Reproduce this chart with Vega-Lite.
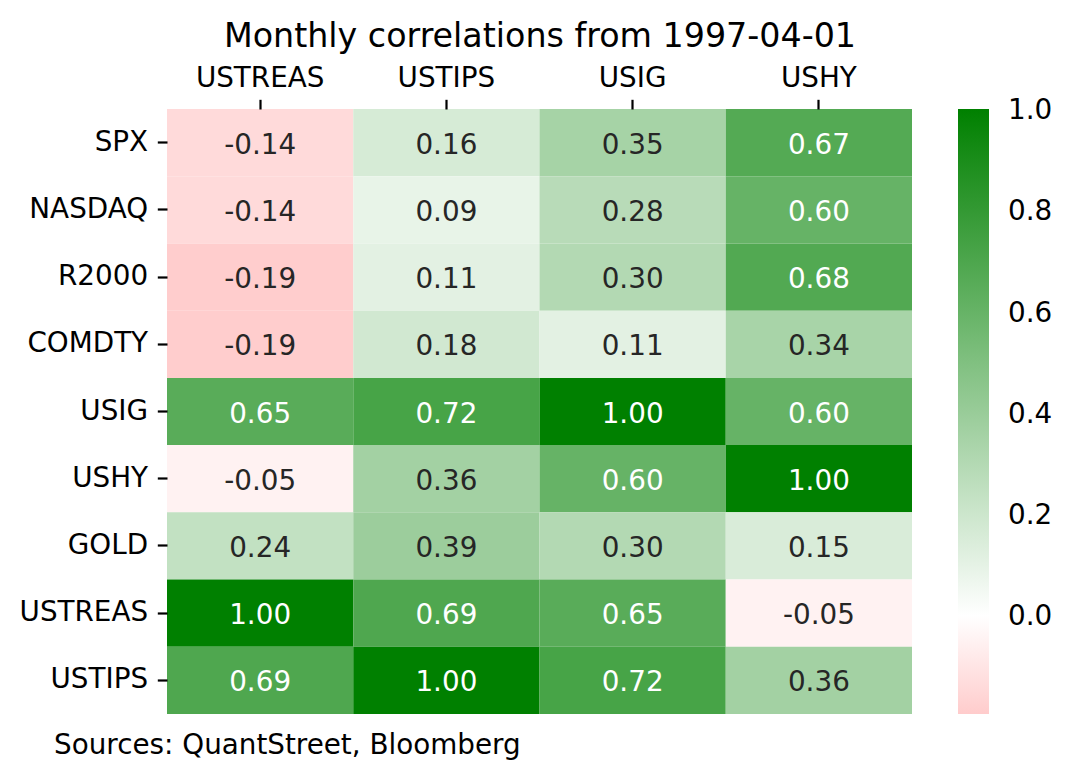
{
  "$schema": "https://vega.github.io/schema/vega-lite/v6.json",
  "autosize": {"type": "none"},
  "width": 745,
  "height": 605,
  "padding": {"left": 167, "top": 109, "right": 160, "bottom": 66},
  "background": "white",
  "config": {
    "locale": {
      "number": {"decimal": ".", "thousands": ",", "grouping": [3], "currency": ["$", ""], "minus": "-"}
    },
    "view": {"stroke": null},
    "font": "DejaVu Sans",
    "axis": {
      "labelFont": "DejaVu Sans",
      "labelFontSize": 27.8,
      "labelColor": "#000000",
      "tickColor": "#000000",
      "tickSize": 9.7,
      "tickWidth": 2.2,
      "domain": false,
      "labelPadding": 9.7,
      "titleFont": "DejaVu Sans",
      "titleFontWeight": "normal",
      "titleColor": "#000000"
    },
    "legend": {
      "labelFont": "DejaVu Sans",
      "labelFontSize": 27.8,
      "labelColor": "#000000"
    }
  },
  "title": {
    "text": "Sources: QuantStreet, Bloomberg",
    "orient": "bottom",
    "anchor": "start",
    "dx": 35,
    "offset": 18,
    "font": "DejaVu Sans",
    "fontSize": 27.8,
    "fontWeight": "normal",
    "color": "#000000"
  },
  "data": {
    "values": [
      {"row": "SPX", "col": "USTREAS", "value": -0.14},
      {"row": "SPX", "col": "USTIPS", "value": 0.16},
      {"row": "SPX", "col": "USIG", "value": 0.35},
      {"row": "SPX", "col": "USHY", "value": 0.67},
      {"row": "NASDAQ", "col": "USTREAS", "value": -0.14},
      {"row": "NASDAQ", "col": "USTIPS", "value": 0.09},
      {"row": "NASDAQ", "col": "USIG", "value": 0.28},
      {"row": "NASDAQ", "col": "USHY", "value": 0.60},
      {"row": "R2000", "col": "USTREAS", "value": -0.19},
      {"row": "R2000", "col": "USTIPS", "value": 0.11},
      {"row": "R2000", "col": "USIG", "value": 0.30},
      {"row": "R2000", "col": "USHY", "value": 0.68},
      {"row": "COMDTY", "col": "USTREAS", "value": -0.19},
      {"row": "COMDTY", "col": "USTIPS", "value": 0.18},
      {"row": "COMDTY", "col": "USIG", "value": 0.11},
      {"row": "COMDTY", "col": "USHY", "value": 0.34},
      {"row": "USIG", "col": "USTREAS", "value": 0.65},
      {"row": "USIG", "col": "USTIPS", "value": 0.72},
      {"row": "USIG", "col": "USIG", "value": 1.00},
      {"row": "USIG", "col": "USHY", "value": 0.60},
      {"row": "USHY", "col": "USTREAS", "value": -0.05},
      {"row": "USHY", "col": "USTIPS", "value": 0.36},
      {"row": "USHY", "col": "USIG", "value": 0.60},
      {"row": "USHY", "col": "USHY", "value": 1.00},
      {"row": "GOLD", "col": "USTREAS", "value": 0.24},
      {"row": "GOLD", "col": "USTIPS", "value": 0.39},
      {"row": "GOLD", "col": "USIG", "value": 0.30},
      {"row": "GOLD", "col": "USHY", "value": 0.15},
      {"row": "USTREAS", "col": "USTREAS", "value": 1.00},
      {"row": "USTREAS", "col": "USTIPS", "value": 0.69},
      {"row": "USTREAS", "col": "USIG", "value": 0.65},
      {"row": "USTREAS", "col": "USHY", "value": -0.05},
      {"row": "USTIPS", "col": "USTREAS", "value": 0.69},
      {"row": "USTIPS", "col": "USTIPS", "value": 1.00},
      {"row": "USTIPS", "col": "USIG", "value": 0.72},
      {"row": "USTIPS", "col": "USHY", "value": 0.36}
    ]
  },
  "encoding": {
    "x": {
      "field": "col",
      "type": "nominal",
      "sort": ["USTREAS", "USTIPS", "USIG", "USHY"],
      "scale": {"paddingInner": 0, "paddingOuter": 0},
      "axis": {
        "orient": "top",
        "labelAngle": 0,
        "labelPadding": 6.5,
        "title": "Monthly correlations from 1997-04-01",
        "titleFontSize": 33.3,
        "titlePadding": 11
      }
    },
    "y": {
      "field": "row",
      "type": "nominal",
      "sort": ["SPX", "NASDAQ", "R2000", "COMDTY", "USIG", "USHY", "GOLD", "USTREAS", "USTIPS"],
      "scale": {"paddingInner": 0, "paddingOuter": 0},
      "axis": {"title": null}
    }
  },
  "layer": [
    {
      "mark": {"type": "rect"},
      "encoding": {
        "color": {
          "field": "value",
          "type": "quantitative",
          "scale": {
            "domain": [-0.195, 0, 1],
            "range": ["#ffcccc", "#ffffff", "#008000"],
            "interpolate": "rgb"
          },
          "legend": {
            "title": null,
            "orient": "right",
            "offset": 46,
            "gradientLength": 605,
            "gradientThickness": 31,
            "gradientStrokeWidth": 0,
            "values": [0, 0.2, 0.4, 0.6, 0.8, 1.0],
            "format": ".1f",
            "labelOffset": 19,
            "labelBaseline": "middle",
            "encode": {
              "labels": {"update": {"baseline": {"value": "middle"}, "dy": {"value": 2}}}
            }
          }
        }
      }
    },
    {
      "mark": {"type": "text", "font": "DejaVu Sans", "fontSize": 27.8, "dy": 3},
      "encoding": {
        "text": {"field": "value", "type": "quantitative", "format": ".2f"},
        "color": {
          "condition": {"test": "datum.value > 0.5", "value": "#ffffff"},
          "value": "#262626"
        }
      }
    }
  ]
}
